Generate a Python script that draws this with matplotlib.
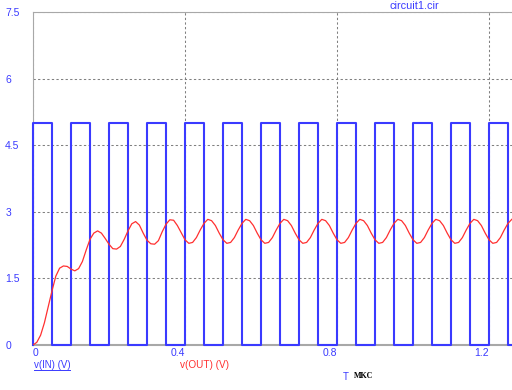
'''Transient plot of an RC-style filter driven by a square wave (circuit1.cir).'''

import numpy as np
import matplotlib
matplotlib.use('Agg')
import matplotlib.pyplot as plt
from matplotlib.lines import Line2D

# Input square wave: switching times (us) and the level held after each one
t_in = [0.0, 0.0, 0.05, 0.10, 0.15, 0.20, 0.25, 0.30, 0.35, 0.40, 0.45,
        0.50, 0.55, 0.60, 0.65, 0.70, 0.75, 0.80, 0.85, 0.90, 0.95,
        1.00, 1.05, 1.10, 1.15, 1.20, 1.25, 1.26]
v_in = [0, 5, 0, 5, 0, 5, 0, 5, 0, 5, 0,
        5, 0, 5, 0, 5, 0, 5, 0, 5, 0,
        5, 0, 5, 0, 5, 0, 0]

# Output voltage, read every 0.01 us from 0 to 1.26
t_out = np.round(np.arange(0, 1.265, 0.01), 2)
v_out = [
    0.00, 0.06, 0.22, 0.50, 0.86, 1.22, 1.55, 1.73, 1.78, 1.77,
    1.71, 1.67, 1.72, 1.88, 2.14, 2.38, 2.52, 2.57, 2.52, 2.40,
    2.27, 2.17, 2.16, 2.22, 2.38, 2.57, 2.73, 2.78, 2.70, 2.52,
    2.36, 2.28, 2.27, 2.35, 2.55, 2.72, 2.82, 2.81, 2.69, 2.53,
    2.37, 2.29, 2.31, 2.42, 2.59, 2.74, 2.83, 2.80, 2.69, 2.52,
    2.37, 2.29, 2.31, 2.42, 2.59, 2.74, 2.83, 2.80, 2.69, 2.52,
    2.37, 2.29, 2.31, 2.42, 2.59, 2.74, 2.83, 2.80, 2.69, 2.52,
    2.37, 2.29, 2.31, 2.42, 2.59, 2.74, 2.83, 2.80, 2.69, 2.52,
    2.37, 2.29, 2.31, 2.42, 2.59, 2.74, 2.83, 2.80, 2.69, 2.52,
    2.37, 2.29, 2.31, 2.42, 2.59, 2.74, 2.83, 2.80, 2.69, 2.52,
    2.37, 2.29, 2.31, 2.42, 2.59, 2.74, 2.83, 2.80, 2.69, 2.52,
    2.37, 2.29, 2.31, 2.42, 2.59, 2.74, 2.83, 2.80, 2.69, 2.52,
    2.37, 2.29, 2.31, 2.42, 2.59, 2.74, 2.83,
]

x_ticks = [0, 0.4, 0.8, 1.2]
x_labels = ['0', '0.4', '0.8', '1.2']
y_ticks = [0, 1.5, 3, 4.5, 6, 7.5]
y_labels = ['0', '1.5', '3', '4.5', '6', '7.5']

BLUE = '#3a3aff'
RED = '#ff3030'
GREY = '#a8a8a8'

plt.rcParams['font.family'] = ['Liberation Sans', 'DejaVu Sans']

W, H = 512, 390
fig = plt.figure(figsize=(W / 100, H / 100), dpi=100)
ax = fig.add_axes([33 / W, 1 - 345 / H, (W - 33) / W, (345 - 12) / H])
ax.set_xlim(0, 479 / 380)
ax.set_ylim(0, 7.5)

# Traces
ax.plot(t_in, v_in, drawstyle='steps-post', color=BLUE, lw=1.5,
        zorder=3, clip_on=False)
ax.plot(t_out, v_out, color=RED, lw=0.9, zorder=4)

# Axes look
ax.spines['right'].set_visible(False)
ax.spines['left'].set_color(GREY)
ax.spines['left'].set_linewidth(0.8)
ax.spines['top'].set_color(GREY)
ax.spines['top'].set_linewidth(0.8)
ax.spines['bottom'].set_color(GREY)
ax.spines['bottom'].set_linewidth(1.5)

ax.set_xticks(x_ticks)
ax.set_xticklabels(x_labels)
ax.set_yticks(y_ticks)
ax.set_yticklabels(y_labels)
ax.tick_params(axis='both', length=0, labelsize=7.5, labelcolor=BLUE)
ax.tick_params(axis='x', pad=2.5)
ax.tick_params(axis='y', pad=20)
for lab in ax.get_yticklabels():
    lab.set_horizontalalignment('left')
for lab in ax.get_xticklabels():
    lab.set_horizontalalignment('left' if lab.get_text() == '0' else 'right')

ax.grid(True, color='#808080', lw=0.75, linestyle=(0, (2.2, 2.2)))
ax.set_axisbelow(True)

# Labels around the plot
fig.text(389 / W, 1 - 6 / H, 'circuit1.cir', color=BLUE, fontsize=7.8,
         ha='left', va='center')
fig.text(34 / W, 1 - 365 / H, 'v(IN) (V)', color=BLUE, fontsize=7,
         ha='left', va='center')
fig.add_artist(Line2D([34 / W, 70 / W], [1 - 369.5 / H, 1 - 369.5 / H],
                      color=BLUE, lw=0.7))
fig.text(180 / W, 1 - 365 / H, 'v(OUT) (V)', color=RED, fontsize=7.2,
         ha='left', va='center')
fig.text(343 / W, 1 - 377 / H, 'T', color=BLUE, fontsize=7,
         ha='left', va='center')
fig.text(354 / W, 1 - 376 / H, 'MKC', color='black', fontsize=5.8,
         family='Liberation Serif', weight='bold', ha='left', va='center')

fig.savefig('out.png', dpi=100)
